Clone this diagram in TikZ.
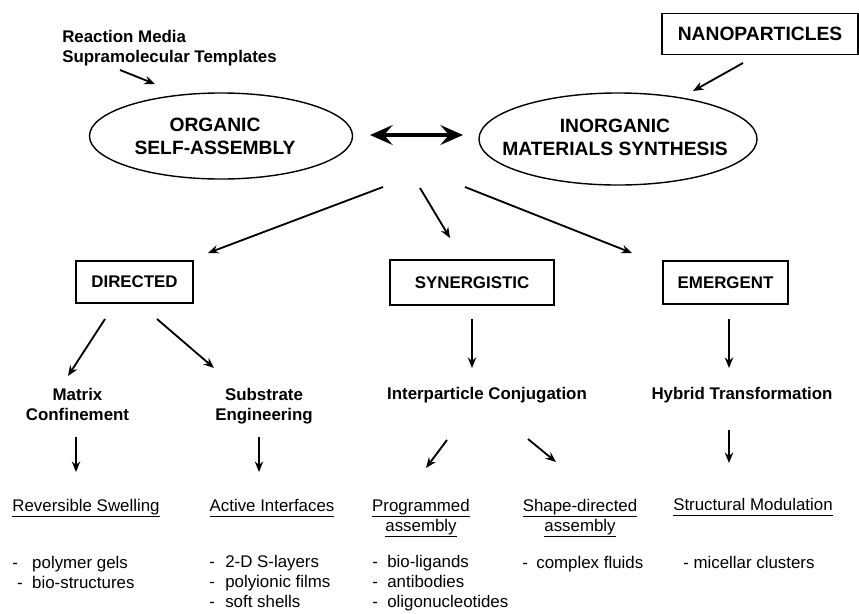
\documentclass[tikz,border=0pt]{standalone}
\usepackage{fontspec}
\setmainfont{Liberation Sans}
\usetikzlibrary{arrows.meta}
\usetikzlibrary{shapes.geometric}
\tikzset{hdr/.style={font=\bfseries\fontsize{13.7}{16.4}\selectfont, align=center, inner sep=0pt}}
\tikzset{lbl/.style={font=\bfseries\fontsize{12}{14.2}\selectfont, align=center, inner sep=0pt, anchor=base}}
\tikzset{sub/.style={font=\fontsize{12}{14.2}\selectfont, align=center, inner sep=0pt, anchor=base}}
\tikzset{lst/.style={font=\fontsize{12}{14}\selectfont, align=left, inner sep=0pt, anchor=base west}}
\tikzset{frame/.style={draw, line width=1.1pt, font=\bfseries\fontsize{12}{14.2}\selectfont, inner sep=0pt}}
\tikzset{oval/.style={draw, ellipse, line width=1pt, inner sep=0pt}}
\tikzset{arr/.style={-{Stealth[length=7.5pt, width=6pt, inset=2.5pt]}, line width=1.3pt}}
\tikzset{twoway/.style={{Stealth[length=16pt, width=14pt, inset=6pt]}-{Stealth[length=16pt, width=14pt, inset=6pt]}, line width=2.6pt}}
\newcommand{\uln}[1]{\underline{#1\vphantom{g}}}

\begin{document}
\begin{tikzpicture}[x=0.025cm, y=-0.025cm]
\useasboundingbox (0,0) rectangle (859,613);
\node[lbl, anchor=base west, align=left] (media) at (62,62) {Reaction Media\\Supramolecular Templates};
\node[frame, font=\bfseries\fontsize{13.7}{16.4}\selectfont, minimum width=4.9cm, minimum height=1.025cm] (nano) at (760,34) {NANOPARTICLES};
\node[oval, minimum width=6.575cm, minimum height=2.15cm] (org) at (221,136) {};
\node[hdr] (orgtxt) at (215,136) {ORGANIC\\SELF-ASSEMBLY};
\node[oval, minimum width=6.95cm, minimum height=2.3cm] (inorg) at (618,139) {};
\node[hdr] (inorgtxt) at (615,137) {INORGANIC\\MATERIALS SYNTHESIS};
\node[frame, minimum width=2.925cm, minimum height=1.05cm] (dir) at (134.5,282) {DIRECTED};
\node[frame, minimum width=4.1cm, minimum height=1.125cm] (syn) at (472,282.5) {SYNERGISTIC};
\node[frame, minimum width=3.125cm, minimum height=1.075cm] (emer) at (725.5,282.5) {EMERGENT};
\node[lbl] (matrix) at (77.5,420) {Matrix\\Confinement};
\node[lbl] (substr) at (264,420) {Substrate\\Engineering};
\node[lbl] (inter) at (487,399) {Interparticle Conjugation};
\node[lbl] (hybrid) at (742,399) {Hybrid Transformation};
\node[sub] (swell) at (86,511) {\uln{Reversible Swelling}};
\node[sub] (active) at (272,511) {\uln{Active Interfaces}};
\node[sub] (prog) at (421,531) {\uln{Programmed}\\\uln{assembly}};
\node[sub] (shape) at (580,531) {\uln{Shape-directed}\\\uln{assembly}};
\node[sub] (struct) at (753,510) {\uln{Structural Modulation}};
\node[lst] (swlist) at (12,588) {-\hspace{10.2pt}polymer gels\\\hspace{3.5pt}-\hspace{6.7pt}bio-structures};
\node[lst] (aclist) at (209,607) {-\hspace{7.4pt}2-D S-layers\\-\hspace{7.4pt}polyionic films\\-\hspace{7.4pt}soft shells};
\node[lst] (prlist) at (372,607) {-\hspace{6.7pt}bio-ligands\\-\hspace{6.7pt}antibodies\\-\hspace{6.7pt}oligonucleotides};
\node[lst] (shlist) at (522,568) {-\hspace{6pt}complex fluids};
\node[lst] (stlist) at (683,568) {- micellar clusters};
\coordinate (rm0) at (120,70); \coordinate (rm1) at (155,84);
\coordinate (np0) at (743,63); \coordinate (np1) at (693,91);
\coordinate (tw0) at (370,135); \coordinate (tw1) at (463,135);
\coordinate (dr0) at (383,187); \coordinate (dr1) at (208,253);
\coordinate (sy0) at (420,188); \coordinate (sy1) at (450,238);
\coordinate (em0) at (465,187); \coordinate (em1) at (632,253);
\coordinate (mx0) at (105,319); \coordinate (mx1) at (68,376);
\coordinate (sb0) at (157,319); \coordinate (sb1) at (214,368);
\coordinate (ip0) at (472,319); \coordinate (ip1) at (472,368);
\coordinate (hy0) at (729,319); \coordinate (hy1) at (729,368);
\coordinate (rs0) at (76,437); \coordinate (rs1) at (76,472);
\coordinate (ai0) at (259,437); \coordinate (ai1) at (259,472);
\coordinate (pa0) at (447,440); \coordinate (pa1) at (426,468);
\coordinate (sa0) at (528,439); \coordinate (sa1) at (556,462);
\coordinate (sm0) at (729,430); \coordinate (sm1) at (729,463);
\draw[arr] (rm0) -- (rm1);
\draw[arr] (np0) -- (np1);
\draw[twoway] (tw0) -- (tw1);
\draw[arr] (dr0) -- (dr1);
\draw[arr] (sy0) -- (sy1);
\draw[arr] (em0) -- (em1);
\draw[arr] (mx0) -- (mx1);
\draw[arr] (sb0) -- (sb1);
\draw[arr] (ip0) -- (ip1);
\draw[arr] (hy0) -- (hy1);
\draw[arr] (rs0) -- (rs1);
\draw[arr] (ai0) -- (ai1);
\draw[arr] (pa0) -- (pa1);
\draw[arr] (sa0) -- (sa1);
\draw[arr] (sm0) -- (sm1);
\end{tikzpicture}
\end{document}
